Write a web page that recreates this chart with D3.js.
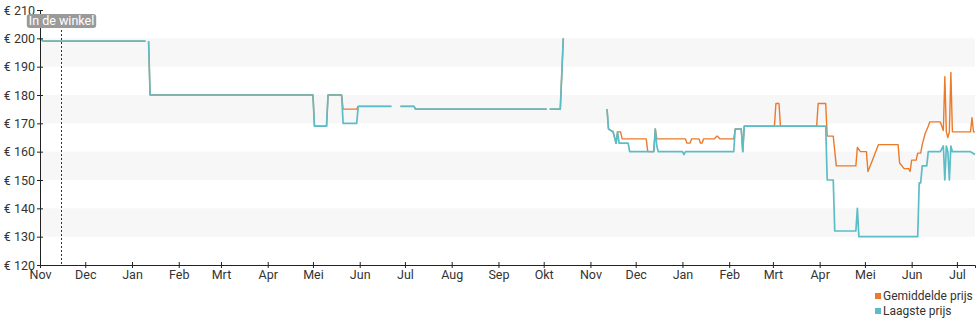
<!DOCTYPE html>
<html>
<head>
<meta charset="utf-8">
<script src="https://cdn.jsdelivr.net/npm/d3@7"></script>
<style>
  html, body { margin: 0; padding: 0; background: #fff; }
  svg { display: block; font-family: Roboto, "Noto Sans", sans-serif; }
</style>
</head>
<body>
<svg id="chart" width="980" height="325"></svg>
<script>
// ---- data ----
const monthLabels = ["Jan","Feb","Mrt","Apr","Mei","Jun","Jul","Aug","Sep","Okt","Nov","Dec"];
const yTicks = [120,130,140,150,160,170,180,190,200,210];
const bands = [[190,200],[170,180],[150,160],[130,140]];
const seriesNames = ["Gemiddelde prijs","Laagste prijs"];
const storeDate = "2022-11-15";
const storeLabel = "In de winkel";
const domainDates = ["2022-11-01","2024-07-13"];

const lowDates = ["2022-11-01","2022-11-03","2023-01-10","2023-01-11","2023-01-12","2023-01-13","2023-05-01","2023-05-02","2023-05-10","2023-05-11","2023-05-20","2023-05-21","2023-05-30","2023-05-31","2023-06-22","2023-06-25","2023-06-28","2023-07-07","2023-07-08","2023-10-03","2023-10-04","2023-10-05","2023-10-12","2023-10-14","2023-10-20",
"2023-11-12","2023-11-13","2023-11-16","2023-11-18","2023-11-19","2023-11-20","2023-11-26","2023-11-27","2023-12-13","2023-12-14","2023-12-15","2023-12-16","2024-01-01","2024-01-02","2024-01-03","2024-02-04","2024-02-05","2024-02-09","2024-02-10","2024-02-11","2024-04-05","2024-04-06","2024-04-10","2024-04-11","2024-04-25","2024-04-26","2024-04-27","2024-06-05","2024-06-06","2024-06-07","2024-06-08","2024-06-11","2024-06-12","2024-06-20","2024-06-22","2024-06-23","2024-06-24","2024-06-25","2024-06-26","2024-06-27","2024-06-28","2024-07-10","2024-07-13"];
const lowValues = [200,199,199,null,199,180,180,169,169,180,180,170,170,176,176,null,176,176,175,175,null,175,175,200,null,
175,168,167,163,167,163,163,160,160,168,162,160,160,159,160,160,168,168,160,169,169,150,150,132,132,140,130,130,149,149,155,155,160,160,162,150,162,160,150,162,160,160,159];

const avgDates = ["2022-11-01","2022-11-03","2023-01-10","2023-01-11","2023-01-12","2023-01-13","2023-05-01","2023-05-02","2023-05-10","2023-05-11","2023-05-20","2023-05-21","2023-05-30","2023-05-31","2023-06-22","2023-06-25","2023-06-28","2023-07-07","2023-07-08","2023-10-03","2023-10-04","2023-10-05","2023-10-12","2023-10-14","2023-10-20",
"2023-11-12","2023-11-13","2023-11-16","2023-11-18","2023-11-19","2023-11-21","2023-11-22","2023-12-08","2023-12-09","2023-12-13","2023-12-14","2023-12-15","2024-01-03","2024-01-04","2024-01-06","2024-01-07","2024-01-12","2024-01-13","2024-01-14","2024-01-15","2024-01-22","2024-01-24","2024-01-26","2024-02-04","2024-02-05","2024-02-09","2024-02-10","2024-02-11","2024-03-02","2024-03-03","2024-03-05","2024-03-06","2024-03-30","2024-03-31","2024-04-05","2024-04-06","2024-04-10","2024-04-12","2024-04-25","2024-04-26","2024-04-28","2024-05-02","2024-05-03","2024-05-06","2024-05-10","2024-05-23","2024-05-24","2024-05-27","2024-05-30","2024-05-31","2024-06-01","2024-06-04","2024-06-05","2024-06-07","2024-06-08","2024-06-10","2024-06-12","2024-06-13","2024-06-20","2024-06-22","2024-06-23","2024-06-24","2024-06-25","2024-06-26","2024-06-27","2024-06-28","2024-07-10","2024-07-11","2024-07-12","2024-07-13"];
const avgValues = [200,199,199,null,199,180,180,169,169,180,180,175,175,176,176,null,176,176,175,175,null,175,175,200,null,
175,168,167,163,167,167,164.5,164.5,160,160,168,164.5,164.5,163,163,164.5,164.5,163,163,164.5,164.5,165.5,164.5,164.5,168,168,160,169,169,177,177,169,169,177,177,165.5,165.5,155,155,161.5,160,160,153,157,162.5,162.5,156,154,154,153,157,157,159.5,159.5,162.5,166.5,169,170.5,170.5,167.5,186.5,167,165,167,188,167,167,172,167,167];

const colors = { avg: "#ec7a2a", low: "#5dbdc7" };

// ---- chart ----
const parse = d3.utcParse("%Y-%m-%d");
const svg = d3.select("#chart");
const mLeft = 40, mRight = 975, mTop = 10, mBottom = 265;

const x = d3.scaleUtc().domain(domainDates.map(parse)).range([mLeft, mRight]);
const y = d3.scaleLinear().domain([120, 210]).range([mBottom, mTop]);

// bands
svg.append("g").selectAll("rect").data(bands).join("rect")
  .attr("x", mLeft).attr("width", mRight - mLeft)
  .attr("y", d => y(d[1])).attr("height", d => y(d[0]) - y(d[1]))
  .attr("fill", "#f7f7f7");

// lines
const mk = (dates, vals) => dates.map((d, i) => ({ date: parse(d), v: vals[i] }));
const line = d3.line().defined(d => d.v != null).x(d => x(d.date)).y(d => y(d.v));

svg.append("path").datum(mk(avgDates, avgValues))
  .attr("d", line).attr("fill", "none").attr("stroke", colors.avg).attr("stroke-width", 1.4)
  .attr("stroke-linejoin", "round");
svg.append("path").datum(mk(lowDates, lowValues))
  .attr("d", line).attr("fill", "none").attr("stroke", colors.low).attr("stroke-width", 1.7)
  .attr("stroke-linejoin", "round");

// y axis
const yAxis = svg.append("g").attr("transform", `translate(${mLeft},0)`)
  .call(d3.axisLeft(y).tickValues(yTicks).tickSize(3).tickFormat(d => "€ " + d));
yAxis.select(".domain").attr("stroke", "#222");
yAxis.selectAll(".tick line").attr("x1", 3).attr("x2", -3).attr("stroke", "#222");
yAxis.selectAll(".tick text").attr("x", -5).attr("font-size", 12.5).attr("fill", "#333")
  .attr("font-family", "Roboto, sans-serif");

// x axis
const xAxis = svg.append("g").attr("transform", `translate(0,${mBottom})`)
  .call(d3.axisBottom(x).ticks(d3.utcMonth.every(1)).tickSize(3)
    .tickFormat(d => monthLabels[d.getUTCMonth()]));
xAxis.select(".domain").attr("stroke", "#222");
xAxis.selectAll(".tick line").attr("y1", -3).attr("y2", 3).attr("stroke", "#222");
xAxis.selectAll(".tick text").attr("y", 5).attr("font-size", 12.5).attr("fill", "#333")
  .attr("font-family", "Roboto, sans-serif");

// store marker
const sx = Math.round(x(parse(storeDate))) + 0.5;
svg.append("line").attr("x1", sx).attr("x2", sx).attr("y1", 14).attr("y2", mBottom)
  .attr("stroke", "#333").attr("stroke-width", 1).attr("stroke-dasharray", "2,2");
const lbl = svg.append("g");
const t = lbl.append("text").attr("x", sx).attr("y", 25).attr("text-anchor", "middle")
  .attr("font-size", 12.5).attr("fill", "#fff").attr("font-family", "Roboto, sans-serif").text(storeLabel);
const bb = t.node().getBBox();
lbl.insert("rect", "text").attr("x", bb.x - 2).attr("y", 14).attr("width", bb.width + 4).attr("height", 14)
  .attr("rx", 3).attr("fill", "#9a9a9a");

// legend
const leg = svg.append("g").attr("transform", "translate(875,292)");
[["avg", seriesNames[0]], ["low", seriesNames[1]]].forEach((s, i) => {
  const g = leg.append("g").attr("transform", `translate(0,${i * 15})`);
  g.append("rect").attr("width", 6).attr("height", 6).attr("y", 1).attr("fill", colors[s[0]]);
  g.append("text").attr("x", 8).attr("y", 8).attr("font-size", 12).attr("fill", "#333")
    .attr("font-family", "Roboto, sans-serif").text(s[1]);
});
</script>
</body>
</html>
